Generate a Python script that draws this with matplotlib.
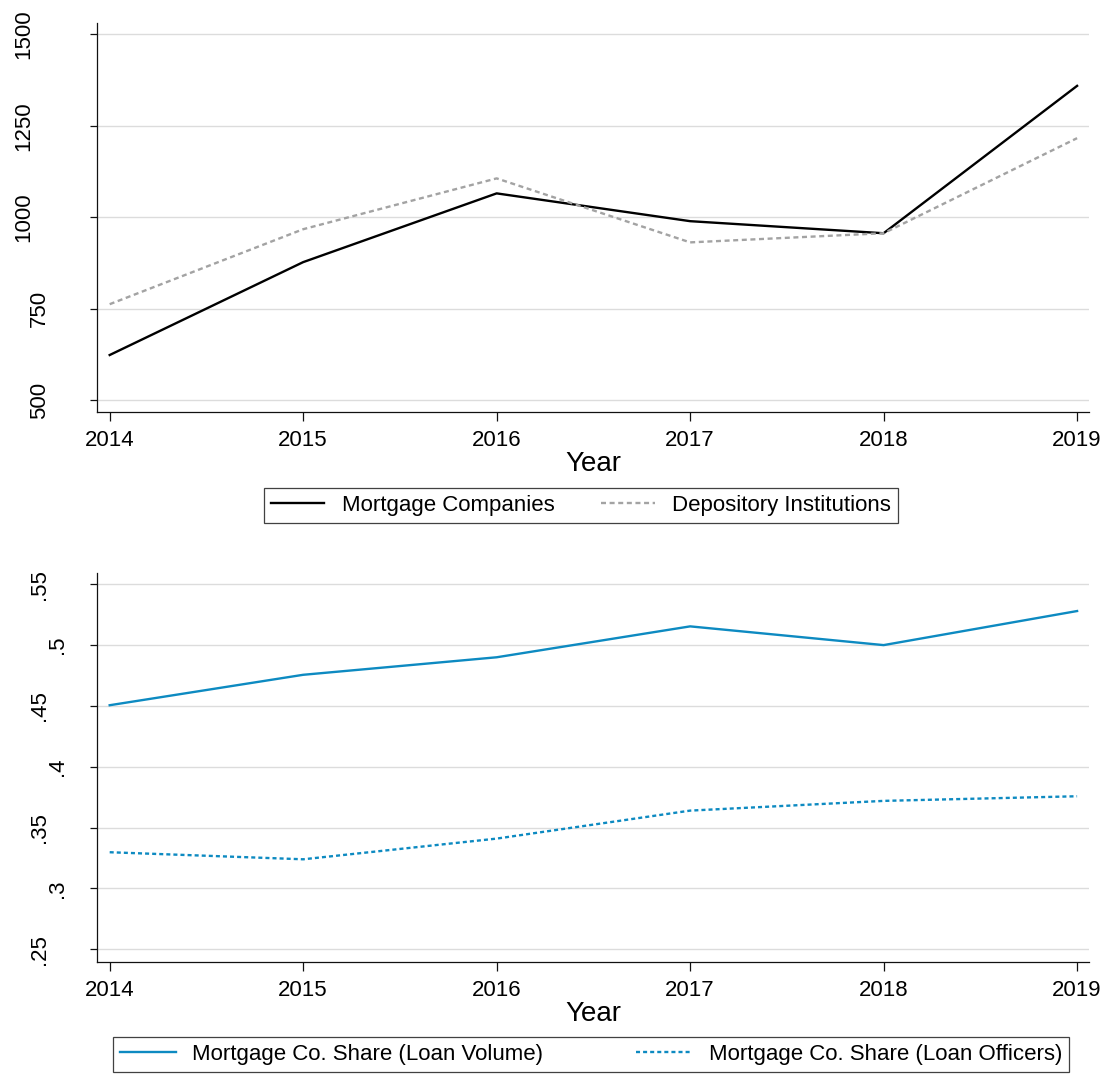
import matplotlib
matplotlib.use("Agg")
import matplotlib.pyplot as plt

plt.rcParams['font.family'] = ['Liberation Sans', 'DejaVu Sans']
plt.rcParams['lines.scale_dashes'] = False

years = [2014, 2015, 2016, 2017, 2018, 2019]
mortgage_companies = [623, 877, 1065, 989, 956, 1359]
depository_institutions = [762, 967, 1106, 931, 956, 1216]
share_loan_volume = [0.4506, 0.4756, 0.490, 0.5154, 0.500, 0.528]
share_loan_officers = [0.3298, 0.324, 0.341, 0.364, 0.372, 0.3758]

top_yticks = [500, 750, 1000, 1250, 1500]
top_ylabels = ['500', '750', '1000', '1250', '1500']
bot_yticks = [0.25, 0.3, 0.35, 0.4, 0.45, 0.5, 0.55]
bot_ylabels = ['.25', '.3', '.35', '.4', '.45', '.5', '.55']

W, H = 1109, 1074
fig = plt.figure(figsize=(W / 100, H / 100), dpi=100)

ax_left, ax_right = 97.3, 1088.7


def make_ax(top_px, bot_px):
    return fig.add_axes([ax_left / W, 1 - bot_px / H, (ax_right - ax_left) / W, (bot_px - top_px) / H])


ax1 = make_ax(22.7, 412)
ax2 = make_ax(572.7, 962)

BLUE = '#0d8ac1'
GRAY = '#a3a3a3'

ax1.plot(years, mortgage_companies, color='black', lw=1.7, label='Mortgage Companies')
ax1.plot(years, depository_institutions, color=GRAY, lw=1.7, dashes=(3.6, 2.6),
         label='Depository Institutions')
ax2.plot(years, share_loan_volume, color=BLUE, lw=1.7, label='Mortgage Co. Share (Loan Volume)')
ax2.plot(years, share_loan_officers, color=BLUE, lw=1.7, dashes=(2.9, 2.2),
         label='Mortgage Co. Share (Loan Officers)')


def style(ax, yticks, ylabels, ylim):
    ax.set_xlim(2013.936, 2019.060)
    ax.set_ylim(*ylim)
    ax.set_xticks(years)
    ax.set_xticklabels([str(y) for y in years])
    ax.set_yticks(yticks)
    ax.set_yticklabels(ylabels)
    for s in ['top', 'right']:
        ax.spines[s].set_visible(False)
    for s in ['left', 'bottom']:
        ax.spines[s].set_linewidth(0.9)
        ax.spines[s].set_color('#111111')
    ax.grid(axis='y', color='#dcdcdc', lw=1.0)
    ax.set_axisbelow(True)
    ax.tick_params(axis='x', direction='out', length=6.2, width=0.9, pad=6.5,
                   labelsize=16, color='#111111')
    ax.tick_params(axis='y', direction='out', length=5.3, width=0.9,
                   labelsize=16, labelrotation=90, color='#111111')
    ax.set_xlabel('Year', fontsize=20, labelpad=0)
    ticks = ax.yaxis.get_major_ticks()
    for tick, lab in zip(ticks, ylabels):
        n = len(lab)
        pad_px = {4: 66.1, 3: 50.3, 2: 32.3}[n]
        tick.set_pad(pad_px * 0.72)
        tick.label1.set_horizontalalignment('center')
        tick.label1.set_verticalalignment('center')


style(ax1, top_yticks, top_ylabels, (467.2, 1531.7))
style(ax2, bot_yticks, bot_ylabels, (0.2396, 0.5595))

h1, l1 = ax1.get_legend_handles_labels()
leg1 = fig.legend(h1, l1, loc='upper left', bbox_to_anchor=(263.7 / W, 1 - 487.5 / H),
                  ncol=2, fontsize=16, frameon=True, fancybox=False, edgecolor='#111111',
                  borderaxespad=0, borderpad=0.32, handlelength=2.4, handletextpad=0.8,
                  columnspacing=2.1)
leg1.get_frame().set_linewidth(0.9)

h2, l2 = ax2.get_legend_handles_labels()
leg2 = fig.legend(h2, l2, loc='upper left',
                  bbox_to_anchor=(113 / W, 1 - 1037 / H - 0.04, 956 / W, 0.04),
                  mode='expand', ncol=2, fontsize=16, frameon=True, fancybox=False,
                  edgecolor='#111111', borderaxespad=0, borderpad=0.32, handlelength=2.5,
                  handletextpad=0.75, columnspacing=1.5)
leg2.get_frame().set_linewidth(0.9)

fig.savefig('out.png', dpi=100, facecolor='white')
